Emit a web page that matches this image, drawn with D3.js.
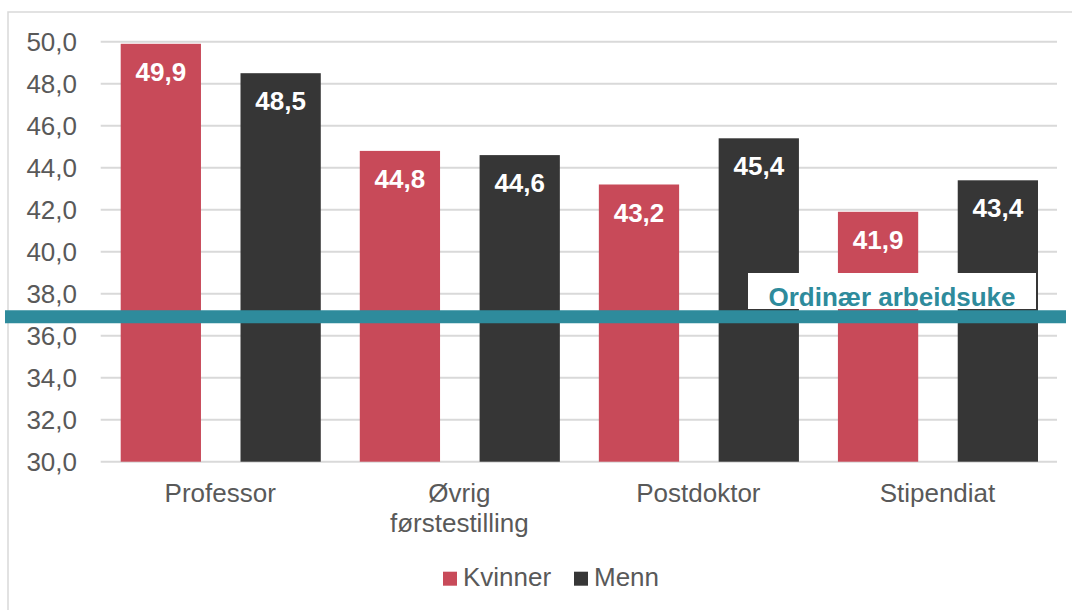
<!DOCTYPE html>
<html><head><meta charset="utf-8">
<script src="https://cdn.jsdelivr.net/npm/d3@7"></script>
<style>
html,body{margin:0;padding:0;background:#fff;}
text{font-family:"Liberation Sans",Arial,sans-serif;}
</style></head>
<body>
<svg id="chart" width="1072" height="610"></svg>
<script>
const categories = ["Professor", "Øvrig førstestilling", "Postdoktor", "Stipendiat"];
const categoryLines = [["Professor"], ["Øvrig", "førstestilling"], ["Postdoktor"], ["Stipendiat"]];
const seriesNames = ["Kvinner", "Menn"];
const kvinner = [49.9, 44.8, 43.2, 41.9];
const menn = [48.5, 44.6, 45.4, 43.4];
const yTicks = [30, 32, 34, 36, 38, 40, 42, 44, 46, 48, 50];
const normalWeek = 36.9;
const normalLabel = "Ordinær arbeidsuke";
const colors = {Kvinner: "#C84A59", Menn: "#363636"};

const svg = d3.select("#chart");
const fmt = v => d3.format(".1f")(v).replace(".", ",");

svg.append("rect").attr("x", 0).attr("y", 0).attr("width", 1072).attr("height", 610).attr("fill", "#fff");
svg.append("rect").attr("x", 8).attr("y", 12).attr("width", 1100).attr("height", 620)
  .attr("fill", "none").attr("stroke", "#d9d9d9").attr("stroke-width", 1.5);

const plot = {left: 100.7, right: 1057, top: 41.7, bottom: 461.7};
const y = d3.scaleLinear().domain([30, 50]).range([plot.bottom, plot.top]);
const x0 = d3.scaleBand().domain(categories).range([plot.left, plot.right]).padding(0);
const x1 = d3.scaleBand().domain(seriesNames).range([20, x0.bandwidth() - 19]).paddingInner(0.33).paddingOuter(0);

// gridlines
svg.append("g").selectAll("line").data(yTicks).join("line")
  .attr("x1", plot.left).attr("x2", plot.right)
  .attr("y1", d => y(d)).attr("y2", d => y(d))
  .attr("stroke", "#d9d9d9").attr("stroke-width", 2);

// y labels
svg.append("g").selectAll("text").data(yTicks).join("text")
  .attr("x", 77).attr("y", d => y(d)).attr("dy", "0.35em")
  .attr("text-anchor", "end").attr("fill", "#595959").style("font-size", "26px")
  .text(d => fmt(d));

const rows = [];
categories.forEach((c, i) => {
  rows.push({cat: c, s: "Kvinner", v: kvinner[i]});
  rows.push({cat: c, s: "Menn", v: menn[i]});
});

svg.append("g").selectAll("rect").data(rows).join("rect")
  .attr("x", d => x0(d.cat) + x1(d.s)).attr("width", x1.bandwidth())
  .attr("y", d => y(d.v)).attr("height", d => y(30) - y(d.v))
  .attr("fill", d => colors[d.s]);

svg.append("g").selectAll("text").data(rows).join("text")
  .attr("x", d => x0(d.cat) + x1(d.s) + x1.bandwidth() / 2)
  .attr("y", d => y(d.v) + 37)
  .attr("text-anchor", "middle").attr("fill", "#fff")
  .style("font-size", "26px").style("font-weight", "bold")
  .text(d => fmt(d.v));

// category labels
const cl = svg.append("g");
categories.forEach((c, i) => {
  const t = cl.append("text").attr("x", x0(c) + x0.bandwidth() / 2).attr("y", 501.5)
    .attr("text-anchor", "middle").attr("fill", "#595959").style("font-size", "26px");
  categoryLines[i].forEach((ln, j) => {
    t.append("tspan").attr("x", x0(c) + x0.bandwidth() / 2).attr("dy", j === 0 ? 0 : 30).text(ln);
  });
});

// label box
svg.append("rect").attr("x", 748).attr("y", 273).attr("width", 288).attr("height", 36).attr("fill", "#fff");
svg.append("text").attr("x", 892).attr("y", 306).attr("text-anchor", "middle")
  .attr("fill", "#2E8B9C").style("font-size", "26px").style("font-weight", "bold").text(normalLabel);

// normal week line
svg.append("line").attr("x1", 5).attr("x2", 1066)
  .attr("y1", y(normalWeek)).attr("y2", y(normalWeek))
  .attr("stroke", "#2E8B9C").attr("stroke-width", 13);

// legend
const legendX = [443, 574];
const lg = svg.append("g");
seriesNames.forEach((s, i) => {
  lg.append("rect").attr("x", legendX[i]).attr("y", 571.7).attr("width", 14).attr("height", 14).attr("fill", colors[s]);
  lg.append("text").attr("x", legendX[i] + 20).attr("y", 586).attr("fill", "#595959").style("font-size", "26px").text(s);
});
</script>
</body></html>
